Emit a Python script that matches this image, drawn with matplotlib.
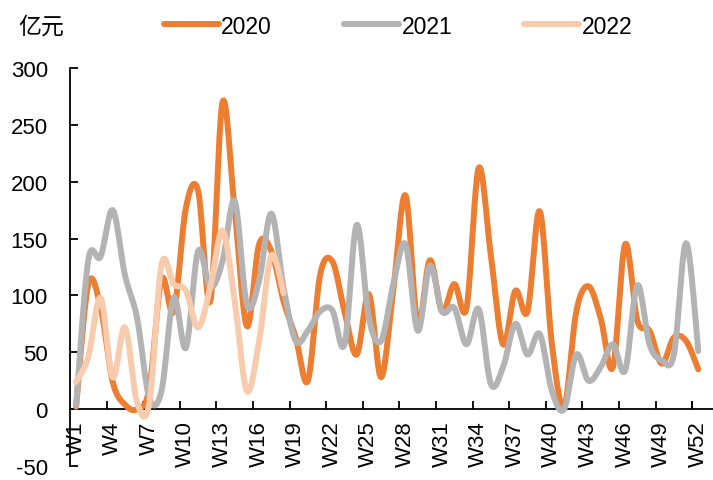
import numpy as np
import matplotlib
matplotlib.use("Agg")
import matplotlib.pyplot as plt
from matplotlib.lines import Line2D

plt.rcParams['font.family'] = ['Liberation Sans', 'Noto Sans CJK SC', 'DejaVu Sans']

weeks = [f"W{i}" for i in range(1, 53)]

s2020 = [2, 110, 90, 24, 4, 0, 18, 114, 86, 177, 192, 95, 270, 175, 73, 145, 139, 95,
         63, 25, 118, 130, 86, 48, 101, 28, 105, 188, 75, 131, 86, 110, 89, 212, 135, 57,
         104, 86, 174, 57, 2, 86, 108, 80, 37, 145, 78, 69, 40, 63, 60, 35]
s2021 = [3, 131, 134, 175, 118, 80, 10, 16, 98, 54, 139, 107, 130, 183, 92, 113, 172, 107,
         60, 69, 86, 87, 57, 162, 80, 60, 110, 145, 69, 126, 86, 89, 57, 88, 22, 37,
         75, 48, 66, 16, 0, 48, 25, 37, 57, 34, 109, 57, 43, 48, 146, 51]
s2022 = [24, 46, 98, 28, 72, 6, 5, 127, 110, 104, 72, 107, 157, 95, 16, 60, 135, 102]

series_names = ["2020", "2021", "2022"]
series_vals = [s2020, s2021, s2022]
colors = ["#ED7D31", "#B3B3B3", "#F8CBAD"]
yticks = [-50, 0, 50, 100, 150, 200, 250, 300]
unit = "亿元"


def smooth(xs, ys, n=20):
    xs = np.asarray(xs, float)
    ys = np.asarray(ys, float)
    px = np.concatenate([[xs[0]], xs, [xs[-1]]])
    py = np.concatenate([[ys[0]], ys, [ys[-1]]])
    ox, oy = [], []
    for i in range(1, len(px) - 2):
        p0x, p1x, p2x, p3x = px[i - 1], px[i], px[i + 1], px[i + 2]
        p0y, p1y, p2y, p3y = py[i - 1], py[i], py[i + 1], py[i + 2]
        c1x, c1y = p1x + (p2x - p0x) / 6, p1y + (p2y - p0y) / 6
        c2x, c2y = p2x - (p3x - p1x) / 6, p2y - (p3y - p1y) / 6
        t = np.linspace(0, 1, n, endpoint=(i == len(px) - 3))
        b0 = (1 - t) ** 3
        b1 = 3 * (1 - t) ** 2 * t
        b2 = 3 * (1 - t) * t ** 2
        b3 = t ** 3
        ox.append(b0 * p1x + b1 * c1x + b2 * c2x + b3 * p2x)
        oy.append(b0 * p1y + b1 * c1y + b2 * c2y + b3 * p2y)
    return np.concatenate(ox), np.concatenate(oy)


fig = plt.figure(figsize=(7.13, 4.81), dpi=100)
ax = fig.add_axes([70 / 713, 14 / 481, 1 - 70 / 713, 398 / 481])

for name, vals, c in zip(series_names, series_vals, colors):
    x = np.arange(1, len(vals) + 1)
    sx, sy = smooth(x, vals)
    ax.plot(sx, sy, color=c, lw=4.3, solid_capstyle='round', solid_joinstyle='round', zorder=3)

ax.set_ylim(-50, 300)
ax.set_xlim(0.5, 0.5 + 643 / 12.2)
ax.set_yticks(yticks)
ax.set_yticklabels([str(v) for v in yticks], fontsize=16)
ax.tick_params(axis='y', direction='in', length=6, width=1.3, pad=16)

ax.spines['top'].set_visible(False)
ax.spines['right'].set_visible(False)
ax.spines['bottom'].set_position(('data', 0))
ax.spines['left'].set_linewidth(1.3)
ax.spines['bottom'].set_linewidth(1.3)

lab_pos = list(range(1, 53, 3))
ax.set_xticks(lab_pos)
ax.set_xticklabels([weeks[i - 1] for i in lab_pos], rotation=90, fontsize=16, va='top', ha='center')
ax.tick_params(axis='x', which='major', length=0, pad=8)
ax.set_xticks([p + 2.5 for p in lab_pos[:-1]] + [51.5], minor=True)
ax.tick_params(axis='x', which='minor', direction='in', length=6, width=1.3)

fig.text(18 / 713, 1 - 27 / 481, unit, fontsize=16.5, va='center', ha='left',
         family=['Noto Sans CJK SC'])

handles = [Line2D([], [], color=c, lw=4.3, solid_capstyle='round') for c in colors]
fig.legend(handles, series_names, loc='center left', bbox_to_anchor=(164 / 713, 1 - 27 / 481),
           ncol=3, frameon=False, fontsize=16.5, handlelength=2.4, handletextpad=0.1,
           columnspacing=3.15, borderpad=0, borderaxespad=0)

fig.savefig("out.png", dpi=100)
